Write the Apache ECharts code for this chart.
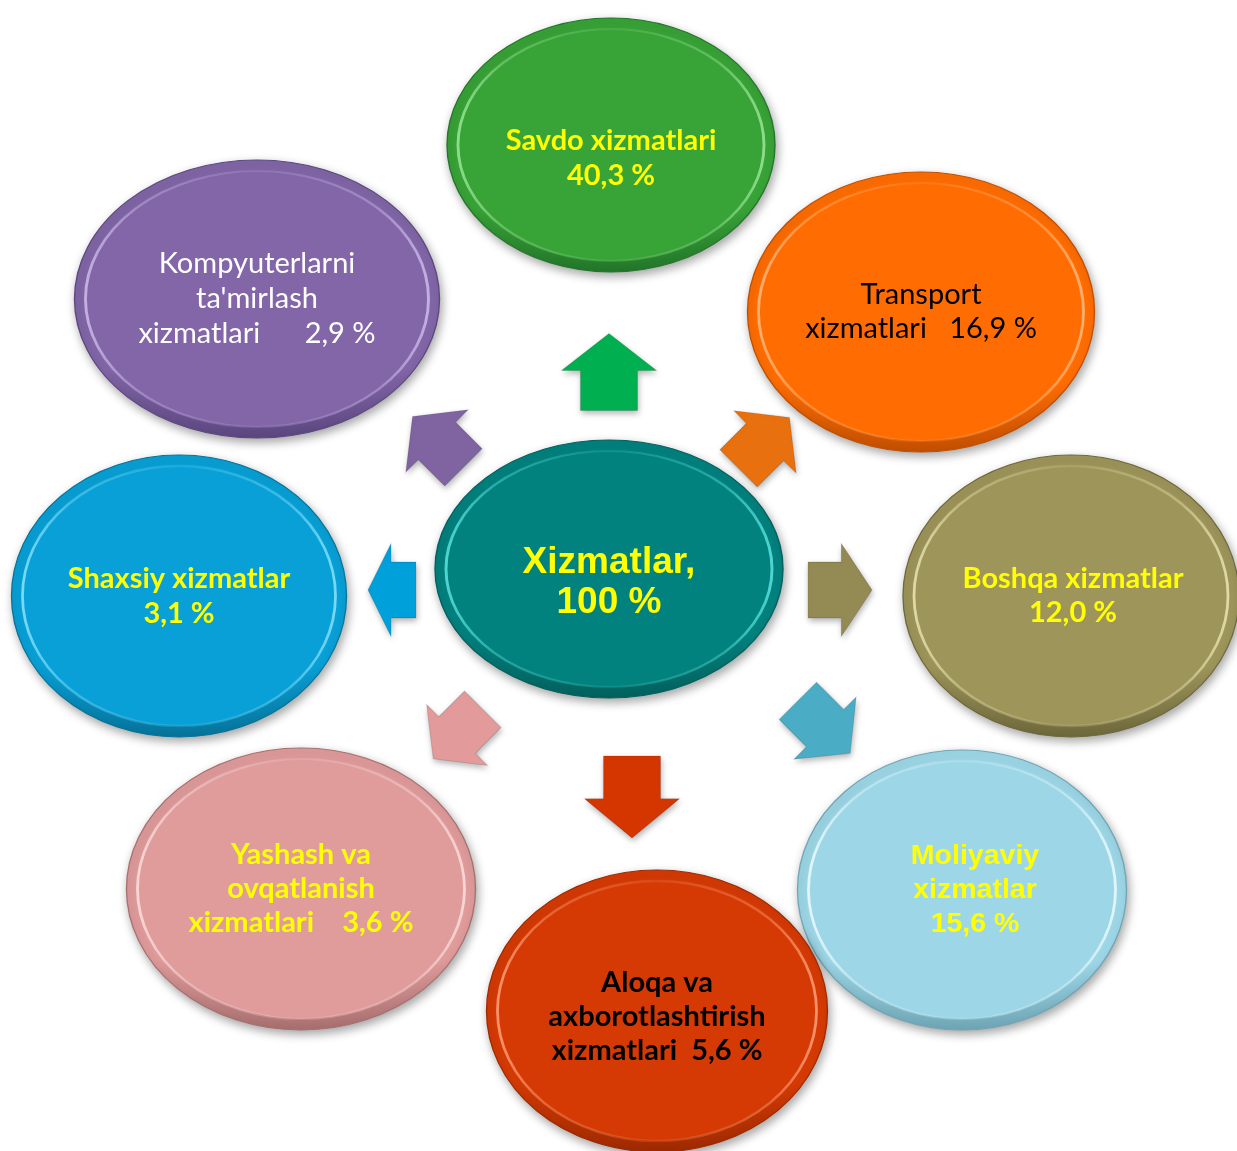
<!DOCTYPE html>
<html>
<head>
<meta charset="utf-8">
<script src="https://cdn.jsdelivr.net/npm/echarts@6/dist/echarts.min.js"></script>
<style>
html,body{margin:0;padding:0;background:#fff;}
#chart{width:1237px;height:1151px;}
</style>
</head>
<body>
<div id="chart"></div>
<script>
// ---------- data ----------
const centerName = 'Xizmatlar,';
const centerShare = '100';
const categories = [
  'Savdo xizmatlari',
  'Transport xizmatlari',
  'Boshqa xizmatlar',
  'Moliyaviy xizmatlar',
  'Aloqa va axborotlashtirish xizmatlari',
  'Yashash va ovqatlanish xizmatlari',
  'Shaxsiy xizmatlar',
  "Kompyuterlarni ta'mirlash xizmatlari"
];
const shares = [40.3, 16.9, 12.0, 15.6, 5.6, 3.6, 3.1, 2.9];
// label text templates ({v} = share)
const labelTemplates = [
  'Savdo xizmatlari\n{v}',
  'Transport\nxizmatlari   {v}',
  'Boshqa xizmatlar\n{v}',
  'Moliyaviy\nxizmatlar\n{v}',
  'Aloqa va\naxborotlashtirish\nxizmatlari  {v}',
  'Yashash va\novqatlanish\nxizmatlari    {v}',
  'Shaxsiy xizmatlar\n{v}',
  "Kompyuterlarni\nta'mirlash\nxizmatlari      {v}"
];

// ---------- layout (positions / sizes, px in a 1237x1151 frame) ----------
const centerLayout = { x: 609, y: 569, w: 348, h: 258, dx: 0, dy: 14 };
const nodeLayout = [
  { x: 611, y: 145, w: 328, h: 254, dx: 0, dy: 13 },
  { x: 921, y: 312, w: 347, h: 280, dx: 0, dy: 0 },
  { x: 1071, y: 596, w: 336, h: 282, dx: 2, dy: 0 },
  { x: 962, y: 890, w: 329, h: 280, dx: 13, dy: 0 },
  { x: 657, y: 1011, w: 341, h: 282, dx: 0, dy: 6 },
  { x: 301, y: 889, w: 349, h: 282, dx: 0, dy: 0 },
  { x: 179, y: 596, w: 335, h: 282, dx: 0, dy: 0 },
  { x: 257, y: 299, w: 365, h: 278, dx: 0, dy: 0 }
];
const arrowLayout = [
  { x: 609, y: 372, w: 95, h: 77, rot: 0 },
  { x: 764, y: 443, w: 88, h: 72, rot: -45 },
  { x: 840, y: 590, w: 93, h: 64, rot: -90 },
  { x: 824, y: 727, w: 88, h: 74, rot: -135 },
  { x: 632, y: 797, w: 95, h: 82, rot: 180 },
  { x: 458, y: 734, w: 86, h: 70, rot: 135 },
  { x: 392, y: 590, w: 93, h: 48, rot: 90 },
  { x: 438, y: 442, w: 88, h: 72, rot: 45 }
];

// ---------- styles ----------
const centerStyle = { fill: '#02827F', hi: '#4FD6D2', edge: '#02615E', text: '#FFFF00', weight: 'bold', font: 'Liberation Sans, Arial, sans-serif', size: 37, lh: 40 };
const nodeStyles = [
  { fill: '#38A337', hi: '#8EDD8A', edge: '#23762A', text: '#FFFF00', weight: 'bold', font: 'Lato, sans-serif', size: 29, lh: 35 },
  { fill: '#FF6D02', hi: '#FFB070', edge: '#C24F00', text: '#000000', weight: 'normal', font: 'Lato, sans-serif', size: 29, lh: 34 },
  { fill: '#9D955A', hi: '#E0DAA6', edge: '#6E683C', text: '#FFFF00', weight: 'bold', font: 'Lato, sans-serif', size: 29, lh: 34 },
  { fill: '#9DD7E7', hi: '#E2F6FB', edge: '#6FA6B6', text: '#FFFF00', weight: 'bold', font: 'Liberation Sans, Arial, sans-serif', size: 28.5, lh: 34 },
  { fill: '#D63A04', hi: '#F7946C', edge: '#9E2A00', text: '#000000', weight: 'bold', font: 'Lato, sans-serif', size: 29, lh: 34 },
  { fill: '#E09B9B', hi: '#F8D6D6', edge: '#A86F6F', text: '#FFFF00', weight: 'bold', font: 'Lato, sans-serif', size: 29, lh: 34 },
  { fill: '#08A0D6', hi: '#78DAF8', edge: '#06739A', text: '#FFFF00', weight: 'bold', font: 'Lato, sans-serif', size: 29, lh: 35 },
  { fill: '#8266A8', hi: '#C4B0E2', edge: '#5C4780', text: '#FFFFFF', weight: 'normal', font: 'Lato, sans-serif', size: 29, lh: 35 }
];
const arrowColors = ['#00B050', '#E8700F', '#948A54', '#4BACC6', '#D53600', '#E29A9A', '#00A0DA', '#8064A2'];

const ELLIPSE = 'path://M0,50A50,50,0,1,1,100,50A50,50,0,1,1,0,50Z';
const ARROW = 'path://M50,0L100,48L80,48L80,100L20,100L20,48L0,48Z';

const fmt = v => v.toFixed(1).replace('.', ',') + ' %';

const allLayout = [centerLayout].concat(nodeLayout);
const allStyle = [centerStyle].concat(nodeStyles);
const allLabels = [centerName + '\n' + centerShare + ' %'].concat(
  labelTemplates.map((t, i) => t.replace('{v}', fmt(shares[i]))));
const allNames = [centerName.replace(',', '')].concat(categories);
const allValues = [Number(centerShare)].concat(shares);

function rgba(hex, a) {
  const n = parseInt(hex.slice(1), 16);
  return 'rgba(' + ((n >> 16) & 255) + ',' + ((n >> 8) & 255) + ',' + (n & 255) + ',' + a + ')';
}

const outerData = allLayout.map((p, i) => ({
  name: allNames[i],
  value: [p.x, p.y, allValues[i]],
  symbolSize: [p.w, p.h],
  itemStyle: {
    opacity: 1,
    color: {
      type: 'linear', x: 0, y: 0, x2: 0, y2: 1,
      colorStops: [
        { offset: 0, color: allStyle[i].fill },
        { offset: 0.75, color: allStyle[i].fill },
        { offset: 1, color: allStyle[i].edge }
      ]
    },
    borderColor: allStyle[i].edge,
    borderWidth: 1.2,
    shadowBlur: 10,
    shadowOffsetX: 2,
    shadowOffsetY: 4,
    shadowColor: 'rgba(0,0,0,0.35)'
  }
}));

const innerData = allLayout.map((p, i) => ({
  name: allNames[i],
  value: [p.x, p.y, allValues[i]],
  symbolSize: [p.w - 22, p.h - 22],
  itemStyle: {
    opacity: 1,
    color: allStyle[i].fill,
    borderColor: {
      type: 'linear', x: 0, y: 0, x2: 1, y2: 0,
      colorStops: [
        { offset: 0, color: allStyle[i].hi },
        { offset: 0.15, color: rgba(allStyle[i].hi, 0.5) },
        { offset: 0.5, color: rgba(allStyle[i].hi, 0.18) },
        { offset: 0.85, color: rgba(allStyle[i].hi, 0.5) },
        { offset: 1, color: allStyle[i].hi }
      ]
    },
    borderWidth: 2.5
  },
  label: {
    show: true,
    position: 'inside',
    offset: [p.dx, p.dy],
    formatter: allLabels[i],
    color: allStyle[i].text,
    fontWeight: allStyle[i].weight,
    fontFamily: allStyle[i].font,
    fontSize: allStyle[i].size,
    lineHeight: allStyle[i].lh,
    align: 'center'
  }
}));

const arrowData = arrowLayout.map((a, i) => ({
  name: categories[i],
  value: [a.x, a.y, shares[i]],
  symbolSize: [a.w, a.h],
  symbolRotate: a.rot,
  itemStyle: {
    opacity: 1,
    color: arrowColors[i],
    borderColor: 'rgba(0,0,0,0.12)',
    borderWidth: 1,
    shadowBlur: 6,
    shadowOffsetX: 1,
    shadowOffsetY: 3,
    shadowColor: 'rgba(0,0,0,0.3)'
  }
}));

const chart = echarts.init(document.getElementById('chart'), null, { renderer: 'canvas' });
chart.setOption({
  animation: false,
  backgroundColor: '#ffffff',
  grid: { left: 0, right: 0, top: 0, bottom: 0 },
  xAxis: { type: 'value', min: 0, max: 1237, show: false },
  yAxis: { type: 'value', min: 0, max: 1151, inverse: true, show: false },
  series: [
    { type: 'scatter', symbol: ARROW, symbolKeepAspect: false, data: arrowData, z: 1, silent: true },
    { type: 'scatter', symbol: ELLIPSE, symbolKeepAspect: false, data: outerData, z: 2, silent: true },
    { type: 'scatter', symbol: ELLIPSE, symbolKeepAspect: false, data: innerData, z: 3, silent: true }
  ]
});
</script>
</body>
</html>
